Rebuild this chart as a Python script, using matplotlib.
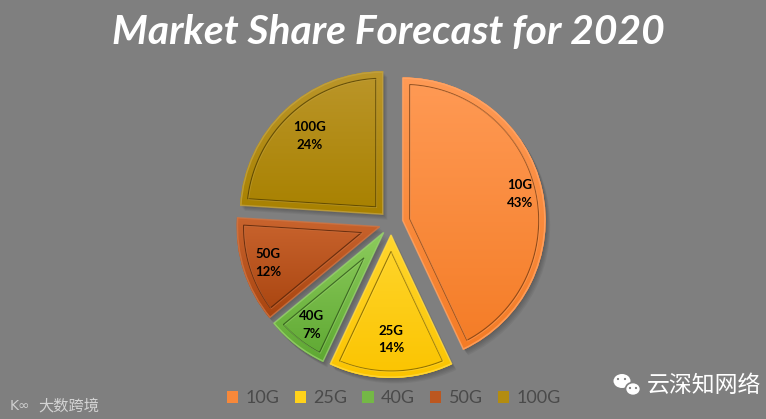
import numpy as np
import matplotlib
matplotlib.use("Agg")
import matplotlib.pyplot as plt
from matplotlib.patches import Wedge, Polygon, Rectangle, Ellipse, Circle
import matplotlib.colors as mcolors

# data
categories = ["10G", "25G", "40G", "50G", "100G"]
shares = [43, 14, 7, 12, 24]
top_colors = ["#ff9a55", "#ffd62e", "#8ccb5c", "#c9642e", "#bb962a"]
bottom_colors = ["#f47c26", "#fbc400", "#5ea832", "#a8440f", "#a88100"]
legend_colors = ["#f7883a", "#ffd21a", "#74b846", "#bc5720", "#b38c10"]
title = "Market Share Forecast for 2020"

W, H = 766, 419
bg = "#7f7f7f"

fig = plt.figure(figsize=(W / 100, H / 100), dpi=100, facecolor=bg)
ax = fig.add_axes([0, 0, 1, 1])
ax.set_facecolor(bg)

center = (391, 196)
radius = 143
explode = [12] * len(shares)
label_dist = [0.84, 0.73, 0.82, 0.82, 0.75]  # label position, fraction of radius

wedges, _ = ax.pie(shares, explode=explode, center=center, radius=radius,
                   startangle=90, counterclock=False, colors=legend_colors,
                   wedgeprops=dict(linewidth=0, zorder=3))


def inner_outline(cx, cy, r, t1, t2, s):
    h = np.radians(t2 - t1) / 2
    m = np.radians(t1 + t2) / 2
    ap = np.array([cx, cy]) + s / np.sin(h) * np.array([np.cos(m), np.sin(m)])
    d = ap - np.array([cx, cy])
    R = r - s
    pts = [ap]
    ends = []
    for t in (t1, t2):
        e = np.array([np.cos(np.radians(t)), np.sin(np.radians(t))])
        de = d @ e
        k = -de + np.sqrt(de ** 2 - d @ d + R ** 2)
        p = ap + k * e
        ends.append(np.arctan2(p[1] - cy, p[0] - cx))
    a1, a2 = ends
    if a2 < a1:
        a2 += 2 * np.pi
    arc = np.linspace(a1, a2, 80)
    pts += list(np.column_stack([cx + R * np.cos(arc), cy + R * np.sin(arc)]))
    return np.array(pts)


for w, c_top, c_bot, lab, val, ld in zip(wedges, top_colors, bottom_colors,
                                         categories, shares, label_dist):
    cx, cy = w.center
    r, t1, t2 = w.r, w.theta1, w.theta2

    # soft shadow
    for k in range(1, 6):
        ax.add_patch(Wedge((cx + k * 0.9, cy - k * 1.1), r, t1, t2,
                           facecolor="black", alpha=0.05, lw=0, zorder=1))

    # vertical gradient clipped to the slice
    ang = np.radians(np.linspace(t1, t2, 60))
    xs = np.r_[cx, cx + r * np.cos(ang)]
    ys = np.r_[cy, cy + r * np.sin(ang)]
    top = np.array(mcolors.to_rgb(c_top))
    bot = np.array(mcolors.to_rgb(c_bot))
    f = np.linspace(0, 1, 100)[:, None]
    grad = (bot * (1 - f) + top * f)[:, None, :]
    im = ax.imshow(grad, extent=[xs.min(), xs.max(), ys.min(), ys.max()],
                   origin="lower", aspect="auto", zorder=4)
    im.set_clip_path(w)

    # bevel rim and inner line
    rim = tuple(top * 0.88 + 0.12)
    ax.add_patch(Wedge((cx, cy), r - 0.8, t1, t2, facecolor="none",
                       edgecolor=rim, lw=1.1, alpha=0.75, zorder=5))
    pts = inner_outline(cx, cy, r, t1, t2, 7)
    ax.add_patch(Polygon(pts, closed=True, facecolor="none",
                         edgecolor=tuple(bot * 0.45), lw=0.8, alpha=0.75,
                         zorder=6))
    ax.add_patch(Polygon(pts + np.array([0.9, -0.9]), closed=True,
                         facecolor="none", edgecolor=rim, lw=0.6, alpha=0.5,
                         zorder=6))

    # label
    m = np.radians((t1 + t2) / 2)
    dist = ld * r
    ax.text(cx + dist * np.cos(m), cy + dist * np.sin(m),
            f"{lab}\n{val}%", ha="center", va="center", fontsize=9.5,
            fontweight="bold", family="Lato", color="black",
            linespacing=1.55, zorder=8)

# title, scaled to the reference width
t = ax.text(388, 375, title, ha="center", va="baseline", fontsize=24,
            fontweight="bold", fontstyle="italic", family="Lato",
            color="white", zorder=9)
fig.canvas.draw()
bb = t.get_window_extent()
t.set_fontsize(24 * 553 / bb.width)

# legend
handles = [Rectangle((0, 0), 1, 1, facecolor=c, edgecolor="none")
           for c in legend_colors]
leg = ax.legend(handles, categories, loc="center", bbox_to_anchor=(0.514, 0.049),
                ncol=5, frameon=False, labelcolor="#4a4a4a",
                handlelength=0.62, handleheight=0.62, handletextpad=0.4,
                columnspacing=0.85, prop=dict(family="Lato", size=13))

# watermarks
ax.text(10, 13, "K∞", fontsize=10, color="#cfcfcf", family="DejaVu Sans",
        va="center", ha="left", zorder=9)
ax.text(38, 13, "大数跨境", fontsize=11, color="#d4d4d4",
        family=["Noto Sans CJK SC", "DejaVu Sans"], va="center", ha="left",
        zorder=9)
ax.text(647, 33, "云深知网络", fontsize=16.5, color="white",
        family=["Noto Sans CJK SC", "DejaVu Sans"], va="center", ha="left",
        zorder=9)
ax.add_patch(Ellipse((622, 38), 17, 14, facecolor="white", edgecolor="none", zorder=9))
ax.add_patch(Ellipse((633, 30), 15, 13, facecolor="white", edgecolor=bg, lw=1.2, zorder=10))
for x, y in [(618, 40), (625, 40), (630, 31), (636, 31)]:
    ax.add_patch(Circle((x, y), 1.1, facecolor="#7a7a7a", zorder=11))

ax.set_xlim(0, W)
ax.set_ylim(0, H)
ax.set_aspect("equal")
ax.axis("off")

fig.savefig("out.png", dpi=100, facecolor=bg)
